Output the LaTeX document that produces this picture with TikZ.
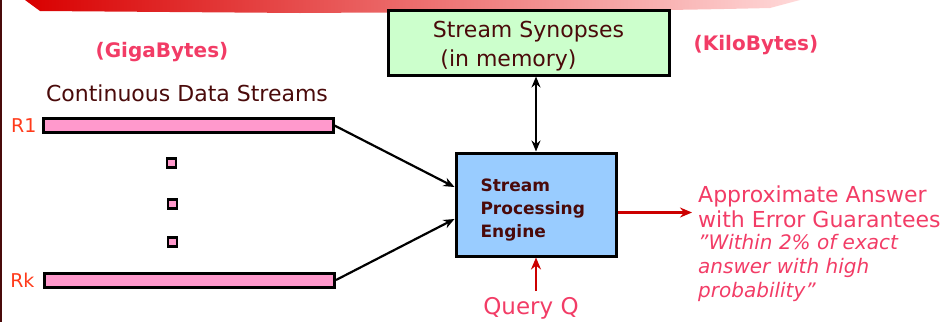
\documentclass[tikz,border=0pt]{standalone}
\usepackage{fontspec}
\setmainfont{DejaVu Sans}
\usetikzlibrary{shapes.geometric, arrows, arrows.meta}
\definecolor{inkbrown}{HTML}{4A0A0A}
\definecolor{hotpink}{HTML}{F23C66}
\definecolor{rlabel}{HTML}{FF3A1A}
\definecolor{barpink}{HTML}{FF99CC}
\definecolor{synfill}{HTML}{CCFFCC}
\definecolor{engfill}{HTML}{99CCFF}
\definecolor{answred}{HTML}{CC0000}
\tikzstyle{synbox} = [
	rectangle,
	minimum width=281pt,
	minimum height=65pt,
	align=center,
	draw=black,
	line width=3pt,
	fill=synfill,
	text=inkbrown,
	font=\fontsize{22}{28}\selectfont
]
\tikzstyle{engbox} = [
	rectangle,
	minimum width=160pt,
	minimum height=103pt,
	draw=black,
	line width=3pt,
	fill=engfill
]
\tikzstyle{bar} = [
	rectangle,
	minimum width=290pt,
	minimum height=14pt,
	draw=black,
	line width=3pt,
	fill=barpink
]
\tikzstyle{dotbox} = [
	rectangle,
	minimum size=9pt,
	inner sep=0pt,
	draw=black,
	line width=2.6pt,
	fill=barpink
]
\tikzstyle{pinklabel} = [text=hotpink, font=\fontsize{22}{25}\selectfont]
\tikzstyle{arrow} = [line width=2.2pt, ->, >={Stealth[length=11pt, width=9pt]}]
\tikzstyle{redarrow} = [line width=2.6pt, ->, >={Stealth[length=12pt, width=10pt]}, draw=answred]

\begin{document}
\begin{tikzpicture}[x=1pt, y=-1pt]
	\useasboundingbox (0,0) rectangle (951,322);
	% slide decoration
	\shade[left color=red!85!black, right color=red!15] (25,0) -- (800,0) -- (770,8) .. controls (600,12) and (450,12) .. (300,13) -- (40,11) -- cycle;
	\draw[line width=2pt, color=inkbrown] (1,0) -- (1,322);

	\node (synopses) [synbox] at (528.5,42.5) {\rule{0pt}{24pt}Stream Synopses\\[1pt](in memory)\hspace*{40pt}};
	\node (engine) [engbox] at (536,204.5) {};
	\node (engtext) [anchor=west, align=left, text=inkbrown, font=\bfseries\fontsize{17}{23}\selectfont] at (477,210) {Stream\\Processing\\Engine};

	\node (giga) [pinklabel, font=\bfseries\fontsize{20}{24}\selectfont] at (162,52) {(GigaBytes)};
	\node (kilo) [pinklabel, font=\bfseries\fontsize{20}{24}\selectfont] at (756,45) {(KiloBytes)};
	\node (cds) [text=inkbrown, font=\fontsize{22}{26}\selectfont] at (187,93) {Continuous Data Streams};

	\node (r1) [bar] at (188,125.5) {};
	\node (rk) [bar] at (189.5,280) {};
	\node (r1lab) [text=rlabel, font=\fontsize{19}{22}\selectfont, anchor=east] at (40,126) {R1};
	\node (rklab) [text=rlabel, font=\fontsize{19}{22}\selectfont, anchor=east] at (38,280) {Rk};
	\node (dot1) [dotbox] at (171.5,163) {};
	\node (dot2) [dotbox] at (172.5,204) {};
	\node (dot3) [dotbox] at (172.5,242) {};

	\node (query) [pinklabel, font=\fontsize{23}{26}\selectfont] at (531,308) {Query Q};
	\coordinate (qtail) at (536,291);
	\coordinate (outhead) at (692,212.5);
	\node (answer) [pinklabel, anchor=north west, align=left, inner sep=0pt] at (698,186) {Approximate Answer\\with Error Guarantees\\[-3pt]
		{\itshape\fontsize{20}{24}\selectfont \symbol{34}Within 2\% of exact}\\[-1pt]
		{\itshape\fontsize{20}{24}\selectfont answer with high}\\[-1pt]
		{\itshape\fontsize{20}{24}\selectfont probability\symbol{34}}};

	\draw [arrow] (r1.east) -- (engine.west |- 0,187);
	\draw [arrow] (rk.east) -- (engine.west |- 0,219);
	\draw [arrow, <->] (synopses.south -| engine.north) -- (engine.north);
	\draw [redarrow] (engine.east |- outhead) -- (outhead);
	\draw [redarrow] (qtail) -- (engine.south);
\end{tikzpicture}
\end{document}
